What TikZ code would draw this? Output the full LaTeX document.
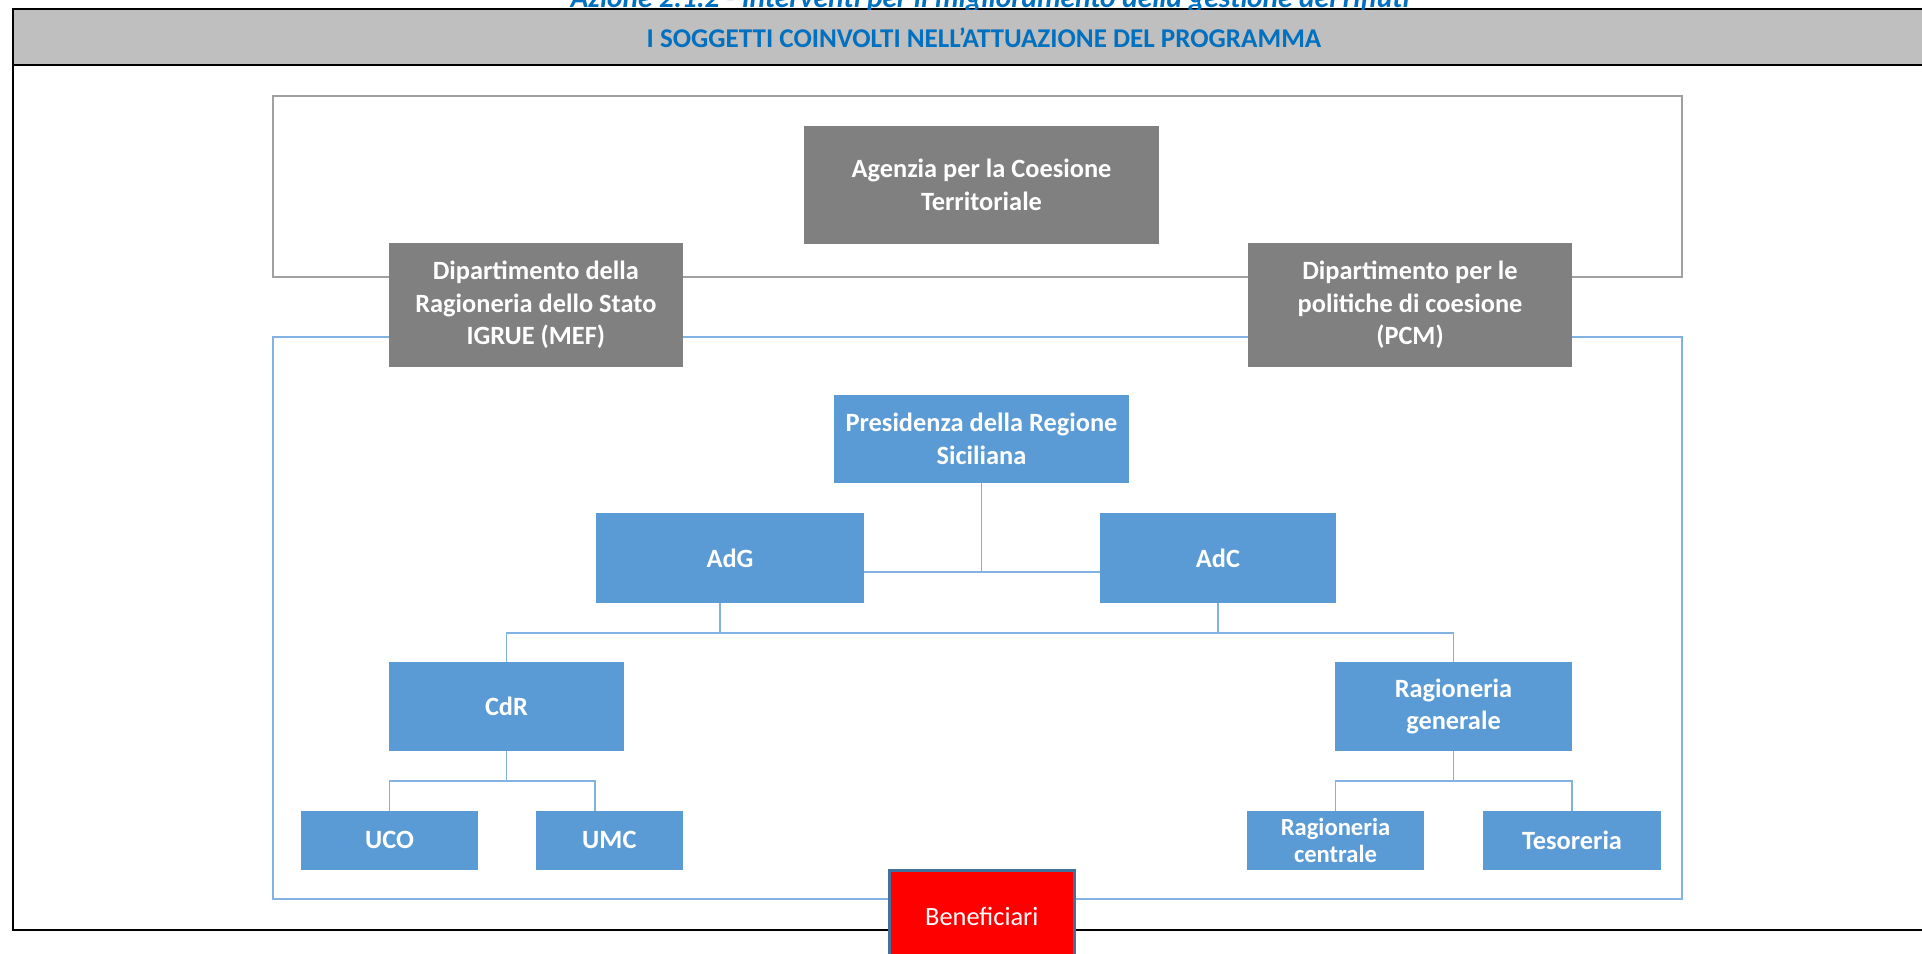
\documentclass[tikz,border=0pt]{standalone}
\usepackage{fontspec}
\setmainfont{Carlito}
\usepackage{tikz}
\definecolor{hdrblue}{RGB}{0,112,192}
\definecolor{boxblue}{RGB}{91,155,213}
\definecolor{lineblue}{RGB}{130,178,226}
\definecolor{boxgray}{RGB}{128,128,128}
\definecolor{bandgray}{RGB}{191,191,191}
\definecolor{framegray}{RGB}{160,160,160}
\definecolor{benborder}{RGB}{65,113,156}

\begin{document}
\begin{tikzpicture}[x=0.01cm,y=-0.01cm]
        \tikzstyle{every node} = [rectangle, inner sep=0pt, outer sep=0pt, align=center, text=white, font=\fontsize{7.5}{9.3}\selectfont\bfseries]
        \tikzstyle{graybox} = [fill=boxgray]
        \tikzstyle{bluebox} = [fill=boxblue]
        \tikzstyle{link} = [draw=lineblue, line width=0.55pt]
        \useasboundingbox (0,0) rectangle (1922,953);
        \clip (0,0) rectangle (1922,953);

        % header band and outer frame
        \fill[bandgray] (13,9.3) rectangle (1922,65);
        \draw[line width=0.6pt] (1922,9.3) -- (13,9.3) -- (13,930) -- (1922,930);
        \draw[line width=0.6pt] (13,65) -- (1922,65);
        \begin{scope}
            \clip (0,0) rectangle (1922,9);
            \node[text=hdrblue, font=\fontsize{8.35}{10}\selectfont\bfseries\itshape, anchor=base] (title) at (990,7) {Azione 2.1.2 - Interventi per il miglioramento della gestione dei rifiuti};
        \end{scope}
        \node[text=hdrblue, font=\fontsize{7.7}{9.3}\selectfont\bfseries] (head) at (984,38) {I SOGGETTI COINVOLTI NELL’ATTUAZIONE DEL PROGRAMMA};

        % group frames
        \draw[framegray, line width=0.5pt] (273.3,95.7) rectangle (1682,276.7);
        \draw[lineblue, line width=0.55pt] (273.3,337) rectangle (1682.3,899);

        \node[graybox, minimum width=3.55cm, minimum height=1.177cm] (0) at (981.5,184.85) {Agenzia per la Coesione\\Territoriale};
        \node[graybox, minimum width=2.937cm, minimum height=1.237cm] (1) at (535.85,304.85) {Dipartimento della\\Ragioneria dello Stato\\IGRUE (MEF)};
        \node[graybox, minimum width=3.24cm, minimum height=1.237cm] (2) at (1410,304.85) {Dipartimento per le\\politiche di coesione\\(PCM)};
        \node[bluebox, minimum width=2.95cm, minimum height=0.88cm] (3) at (981.5,439) {Presidenza della Regione\\Siciliana};
        \node[bluebox, minimum width=2.68cm, minimum height=0.897cm] (4) at (730,557.85) {AdG};
        \node[bluebox, minimum width=2.36cm, minimum height=0.897cm] (5) at (1218,557.85) {AdC};
        \node[bluebox, minimum width=2.35cm, minimum height=0.887cm] (6) at (506.5,706.35) {CdR};
        \node[bluebox, minimum width=2.37cm, minimum height=0.887cm] (7) at (1453.5,706.35) {Ragioneria\\generale};
        \node[bluebox, minimum width=1.77cm, minimum height=0.587cm] (8) at (389.5,840.35) {UCO};
        \node[bluebox, minimum width=1.467cm, minimum height=0.587cm] (9) at (609.35,840.35) {UMC};
        \node[bluebox, minimum width=1.77cm, minimum height=0.587cm, font=\fontsize{7}{7.6}\selectfont\bfseries] (10) at (1335.5,840.35) {Ragioneria\\centrale};
        \node[bluebox, minimum width=1.78cm, minimum height=0.587cm] (11) at (1572,840.35) {Tesoreria};
        \node[fill=red, draw=benborder, line width=1pt, font=\fontsize{7.5}{9}\selectfont, minimum width=1.85cm, minimum height=0.906cm] (12) at (981.8,916) {Beneficiari};

        \coordinate (a) at (981.5,572);
        \coordinate (b) at (720,632.7);
        \coordinate (c) at (594.7,780.7);
        \coordinate (d) at (1453.5,780.7);

        \foreach \from/\to in {3/a, 7/d}
            \draw[link] (\from) -- (\to);
        \draw[link] (a -| 4.east) -- (a -| 5.west);
        \draw[link] (b |- 4.south) -- (b);
        \draw[link] (5) -- (5 |- b);
        \draw[link] (6) |- (b) -| (7);
        \draw[link] (6) -- (6 |- c);
        \draw[link] (8) |- (c) -- (c |- 9.north);
        \draw[link] (10) |- (d) -| (11);
\end{tikzpicture}
\end{document}
